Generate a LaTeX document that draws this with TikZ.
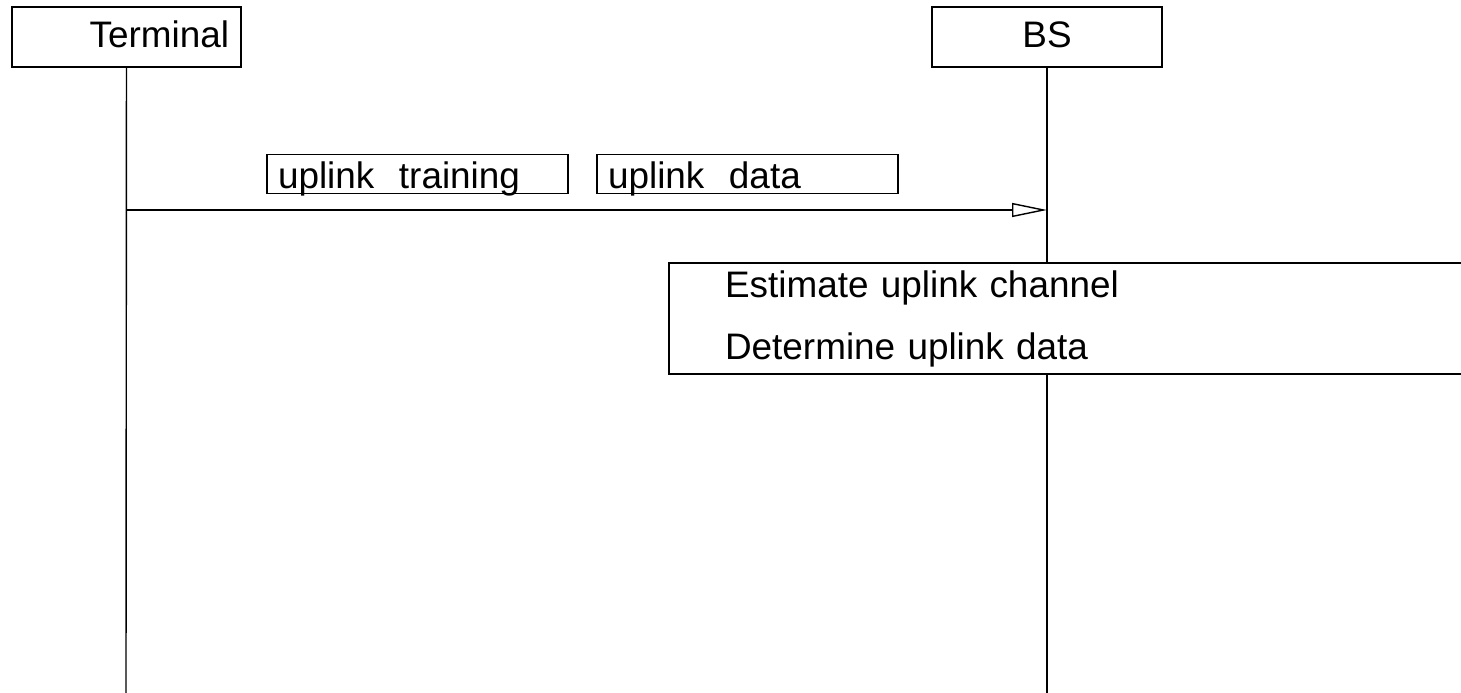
\documentclass[tikz,border=0pt]{standalone}
\usepackage{fontspec}
\setmainfont{Liberation Sans}
\usetikzlibrary{arrows.meta}
\begin{document}
\begin{tikzpicture}[
        x=0.02cm, y=-0.02cm,
        line width=0.8pt,
        font=\fontsize{21}{25}\selectfont,
        entity/.style ={draw, fill=white, minimum height=1.2cm, inner xsep=0.24cm, inner ysep=0pt, text height=0.5cm, text depth=0.06cm},
        msgbox/.style ={draw, minimum width=6.02cm, minimum height=0.78cm, inner xsep=0.22cm, inner ysep=0pt, text width=5.58cm, align=left, text height=0.6cm, text depth=0pt},
        action/.style ={draw, fill=white, minimum height=2.22cm, inner xsep=1.12cm, inner ysep=0pt, text width=13.88cm, align=left, font=\fontsize{21}{35.3}\selectfont},
        msg/.style ={-{Triangle[open,length=0.7cm,width=0.28cm]}},
    ]
    \useasboundingbox (0,0) rectangle (1461,693);
    % lifelines
    \coordinate (tend) at (126,693);
    \coordinate (bend) at (1047,693);
    \node[entity, text width=4.1cm, align=right] (term) at (126.5,37) {Terminal};
    \node[entity, text width=4.12cm, align=center] (bs) at (1047,37) {BS};
    \draw (term) -- (tend);
    \draw (bs) -- (bend);

    % uplink message
    \coordinate (m1s) at (126,210);
    \coordinate (m1e) at (1047,210);
    \draw[msg] (m1s) -- (m1e);
    \node[msgbox] (train) at (417.5,174) {uplink\ \ training};
    \node[msgbox] (data) at (747.5,174) {uplink\ \ data};

    % processing at the BS
    \node[action] (est) at (1072,318.5) {Estimate uplink channel\\Determine uplink data};
\end{tikzpicture}
\end{document}
